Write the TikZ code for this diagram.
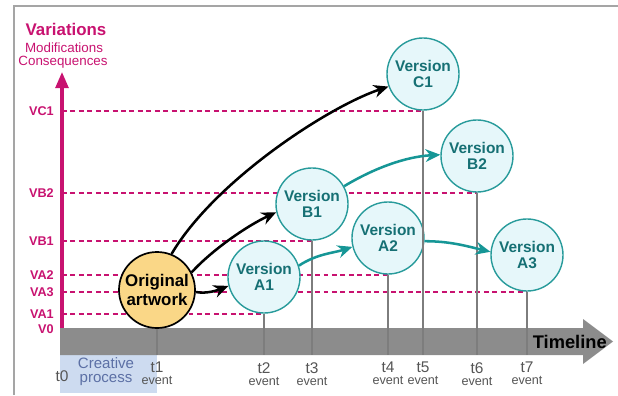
\documentclass[tikz,border=0pt]{standalone}
\usepackage{fontspec}
\setmainfont{Liberation Sans}
\usetikzlibrary{arrows.meta}
\usetikzlibrary{positioning}
\usetikzlibrary{backgrounds}

\definecolor{varpink}{RGB}{200,18,112}
\definecolor{verfill}{RGB}{230,247,250}
\definecolor{verborder}{RGB}{40,155,155}
\definecolor{vertext}{RGB}{22,112,116}
\definecolor{arrteal}{RGB}{22,150,150}
\definecolor{origfill}{RGB}{250,215,135}
\definecolor{bandgray}{RGB}{140,140,140}
\definecolor{stemgray}{RGB}{125,125,125}
\definecolor{eventgray}{RGB}{85,85,85}
\definecolor{creafill}{RGB}{205,219,240}
\definecolor{creatext}{RGB}{92,112,165}
\definecolor{framegray}{RGB}{165,165,165}

\begin{document}
\begin{tikzpicture}[x=0.025cm,y=-0.025cm]
    \tikzstyle{version} = [circle, draw=verborder, fill=verfill, line width=1pt, minimum size=1.8cm, inner sep=0pt, align=center, text=vertext, font=\bfseries\fontsize{11}{11.5}\selectfont]
    \tikzstyle{artwork} = [circle, draw=black, fill=origfill, line width=1.2pt, minimum size=1.9cm, inner sep=0pt, align=center, font=\bfseries\fontsize{12}{13}\selectfont]
    \tikzstyle{level line} = [varpink, line width=1.2pt, dash pattern=on 3.5pt off 2.5pt]
    \tikzstyle{level label} = [text=varpink, inner sep=0pt, font=\bfseries\fontsize{9}{9}\selectfont]
    \tikzstyle{stem} = [stemgray, line width=1pt]
    \tikzstyle{event label} = [align=center, text=eventgray, inner sep=0pt, font=\fontsize{11}{8.5}\selectfont]
    \tikzstyle{black arrow} = [line width=1.8pt, -{Stealth[length=0.37cm,width=0.32cm]}]
    \tikzstyle{teal arrow} = [black arrow, arrteal]

    \useasboundingbox (0,0) rectangle (618,395);
    \draw[framegray, line width=1.2pt] (14,395) -- (14,6) -- (618,6);

    % titles of the vertical axis
    \node[text=varpink, font=\bfseries\fontsize{12}{12}\selectfont] (title) at (66,29) {Variations};
    \node[text=varpink, font=\fontsize{9.5}{9.5}\selectfont] (modif) at (64,48) {Modifications};
    \node[text=varpink, font=\fontsize{9.5}{9.5}\selectfont] (conseq) at (63,62) {Consequences};

    % creative process and timeline
    \fill[creafill] (60,355) rectangle (157,393);
    \node[text=creatext, align=center, font=\fontsize{10.7}{10}\selectfont] (creative) at (106,372) {Creative\\process};
    \fill[bandgray] (60,328) -- (583,328) -- (583,319) -- (613,341.5) -- (583,364) -- (583,355) -- (60,355) -- cycle;
    \node[anchor=east, inner sep=0pt, font=\bfseries\fontsize{13}{13}\selectfont] (timeline) at (607,342) {Timeline};

    % artwork and its versions
    \node[artwork] (orig) at (157,290) {Original\\artwork};
    \node[version] (a1) at (264,277) {Version\\A1};
    \node[version] (b1) at (312,204) {Version\\B1};
    \node[version] (a2) at (388,238) {Version\\A2};
    \node[version] (c1) at (423,74) {Version\\C1};
    \node[version] (b2) at (477,156) {Version\\B2};
    \node[version] (a3) at (527,255) {Version\\A3};

    % vertical axis
    \coordinate (axis) at (62,328);
    \coordinate (axtop) at (62,72);
    \draw[varpink, line width=2.2pt, -{Triangle[length=0.4cm,width=0.32cm]}] (axis) -- (axtop);

    % levels
    \coordinate (lvC1) at (axis |- c1.south);
    \coordinate (lvB2) at (axis |- b2.south);
    \coordinate (lvB1) at (axis |- b1.south);
    \coordinate (lvA2) at (axis |- a2.south);
    \coordinate (lvA3) at (axis |- a3.south);
    \coordinate (lvA1) at (axis |- a1.south);
    \coordinate (lv0) at (axis |- orig.south);
    \begin{scope}[on background layer]
        \draw[level line] (lvC1) -- (c1.south);
        \draw[level line] (lvB2) -- (b2.south);
        \draw[level line] (lvB1) -- (b1.south);
        \draw[level line] (lvA2) -- (a2.south);
        \draw[level line] (lvA3) -- (a3.south);
        \draw[level line] (lvA1) -- (a1.south);
        \draw[level line] (lv0) -- (orig.south);
    \end{scope}
    \node[level label, left=0.2cm of lvC1] (labC1) {VC1};
    \node[level label, left=0.2cm of lvB2] (labB2) {VB2};
    \node[level label, left=0.2cm of lvB1] (labB1) {VB1};
    \node[level label, left=0.2cm of lvA2] (labA2) {VA2};
    \node[level label, left=0.2cm of lvA3] (labA3) {VA3};
    \node[level label, left=0.2cm of lvA1] (labA1) {VA1};
    \node[level label, left=0.2cm of lv0] (lab0) {V0};

    % events
    \coordinate (base) at (0,355);
    \coordinate (ev0) at (axis |- base);
    \coordinate (ev1) at (orig.south |- base);
    \coordinate (ev2) at (a1.south |- base);
    \coordinate (ev3) at (b1.south |- base);
    \coordinate (ev4) at (a2.south |- base);
    \coordinate (ev5) at (c1.south |- base);
    \coordinate (ev6) at (b2.south |- base);
    \coordinate (ev7) at (a3.south |- base);
    \draw[stem] (orig.south) -- (ev1);
    \draw[stem] (a1.south) -- (ev2);
    \draw[stem] (b1.south) -- (ev3);
    \draw[stem] (a2.south) -- (ev4);
    \draw[stem] (c1.south) -- (ev5);
    \draw[stem] (b2.south) -- (ev6);
    \draw[stem] (a3.south) -- (ev7);
    \node[event label, below=11pt of ev0] (t0) {t0};
    \node[event label, below=5pt of ev1] (t1) {t1\\{\fontsize{9}{8.5}\selectfont event}};
    \node[event label, below=5pt of ev2] (t2) {t2\\{\fontsize{9}{8.5}\selectfont event}};
    \node[event label, below=5pt of ev3] (t3) {t3\\{\fontsize{9}{8.5}\selectfont event}};
    \node[event label, below=5pt of ev4] (t4) {t4\\{\fontsize{9}{8.5}\selectfont event}};
    \node[event label, below=5pt of ev5] (t5) {t5\\{\fontsize{9}{8.5}\selectfont event}};
    \node[event label, below=5pt of ev6] (t6) {t6\\{\fontsize{9}{8.5}\selectfont event}};
    \node[event label, below=5pt of ev7] (t7) {t7\\{\fontsize{9}{8.5}\selectfont event}};

    % derivations
    \draw[black arrow] (orig.68) .. controls +(43,-73) and +(-60,20) .. (c1.200);
    \draw[black arrow] (orig.27) .. controls +(20,-22) and +(-30,14) .. (b1.193);
    \draw[black arrow] (orig.-3) .. controls +(12,2) and +(-10,4) .. (a1.194);
    \draw[teal arrow] (a1.18) .. controls +(18,-12) and +(-18,6) .. (a2.194);
    \draw[teal arrow] (b1.29) .. controls +(30,-18) and +(-35,2) .. (b2.178);
    \draw[teal arrow] (a2.-5) .. controls +(25,0) and +(-25,-6) .. (a3.175);
\end{tikzpicture}
\end{document}
